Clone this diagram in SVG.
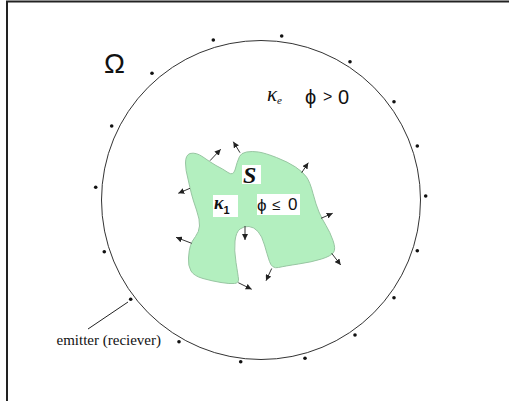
<svg xmlns="http://www.w3.org/2000/svg" width="509" height="401" viewBox="0 0 509 401">
<defs>
<style>
.dot{fill:#111}
.arr{stroke:#333;stroke-width:1;fill:none;marker-end:url(#ah)}
.lbl{font-family:"Liberation Serif","Times New Roman",serif;fill:#111}
.sans{font-family:"Liberation Sans",Arial,sans-serif;fill:#111}
.bg{fill:#fff}
</style>
<marker id="ah" markerUnits="userSpaceOnUse" markerWidth="7" markerHeight="6" refX="6" refY="3" orient="auto">
<path d="M0,0 L6,3 L0,6 Z" fill="#222"/>
</marker>
</defs>
<rect x="0" y="0" width="509" height="401" fill="#fff"/>
<g id="frame" stroke="#222" stroke-width="2">
<line x1="6" y1="1.5" x2="509" y2="1.5"/>
<line x1="7" y1="1" x2="7" y2="401"/>
</g>
<g id="domain">
<circle cx="261" cy="200" r="159.5" fill="none" stroke="#333" stroke-width="1"/>
<text class="sans" x="104" y="73" font-size="28">Ω</text>
<text class="lbl" x="267" y="101" font-size="21" font-style="italic">κ<tspan font-size="11" dy="3">e</tspan></text>
<text class="sans" x="305" y="104" font-size="20">ϕ</text>
<text class="sans" x="323" y="102" font-size="16">&gt;</text>
<text class="sans" x="338" y="104" font-size="20">0</text>
</g>
<g id="emitters">
<circle class="dot" cx="281.7" cy="36" r="1.8"/>
<circle class="dot" cx="213.3" cy="40" r="1.8"/>
<circle class="dot" cx="350" cy="61.7" r="1.8"/>
<circle class="dot" cx="152" cy="73.3" r="1.8"/>
<circle class="dot" cx="394" cy="101.7" r="1.8"/>
<circle class="dot" cx="111.7" cy="126" r="1.8"/>
<circle class="dot" cx="417.3" cy="146" r="1.8"/>
<circle class="dot" cx="95.7" cy="187.3" r="1.8"/>
<circle class="dot" cx="425.7" cy="196" r="1.8"/>
<circle class="dot" cx="417.3" cy="250.7" r="1.8"/>
<circle class="dot" cx="104.3" cy="251.7" r="1.8"/>
<circle class="dot" cx="394" cy="297.7" r="1.8"/>
<circle class="dot" cx="130.7" cy="299.3" r="1.8"/>
<circle class="dot" cx="355" cy="335" r="1.8"/>
<circle class="dot" cx="179" cy="341.7" r="1.8"/>
<circle class="dot" cx="240.7" cy="361.7" r="1.8"/>
<circle class="dot" cx="305" cy="358.3" r="1.8"/>
</g>
<g id="label-emitter">
<text class="lbl" x="56.5" y="345" font-size="15">emitter (reciever)</text>
</g>
<g id="region-S">
<path d="M185.5,163 Q185.5,155 190,153.5 Q196,152 203,157 Q210,162 216,165.5 Q223,169 228,172.5 Q233,176 235,170 Q237,162 239.5,156.5 Q241,153 246.5,152 Q252,151 258.5,152 Q265,153 276.5,157.5 Q288,162 295.5,167 Q303,172 306.5,177 Q310,182 313,193.5 Q316,205 319,212 Q322,219 326,225.5 Q330,232 333,240.5 Q336,249 333.5,252.5 Q331,256 321.5,259 Q312,262 298.5,264 Q285,266 278.5,267.5 Q272,269 269.5,261.5 Q267,254 264.5,245 Q262,236 258,231.5 Q254,227 249,226.5 Q244,226 240,229 Q236,232 235,241 Q234,250 236,262.5 Q238,275 238.5,279 Q239,283 234.5,283.5 Q230,284 221,282.5 Q212,281 203,278.5 Q194,276 191,271 Q188,266 188.5,258 Q189,250 190.5,245.5 Q192,241 195.5,236.5 Q199,232 199.5,226 Q200,220 196.5,210 Q193,200 191.5,194 Q190,188 188,179 Q185.5,170 185.5,163 Z" fill="#b3efbf" stroke="#98c6a2" stroke-width="1"/>
<rect class="bg" x="242" y="165" width="19" height="19"/>
<rect class="bg" x="213" y="195" width="25" height="22"/>
<rect class="bg" x="257" y="194" width="43" height="21"/>
<text class="lbl" x="243" y="183" font-size="24" font-style="italic" font-weight="bold">S</text>
<text class="lbl" x="214" y="209" font-size="18" font-style="italic" font-weight="bold">κ<tspan font-family="Liberation Sans, sans-serif" font-style="normal" font-size="11" dy="5">1</tspan></text>
<text class="sans" x="257" y="211" font-size="17">ϕ</text>
<text class="sans" x="272" y="210" font-size="15">≤</text>
<text class="sans" x="288" y="210" font-size="17">0</text>
</g>
<g id="connectors">
<line x1="128" y1="302" x2="88" y2="329" stroke="#222" stroke-width="1"/>
<line class="arr" x1="210" y1="160.7" x2="220.7" y2="149.3"/>
<line class="arr" x1="240" y1="152.7" x2="233.3" y2="141.7"/>
<line class="arr" x1="301.7" y1="172.7" x2="308.3" y2="162.7"/>
<line class="arr" x1="190" y1="188.3" x2="178.3" y2="193.3"/>
<line class="arr" x1="321" y1="218.3" x2="332.7" y2="213.3"/>
<line class="arr" x1="191.7" y1="243.3" x2="176" y2="237.3"/>
<line class="arr" x1="245" y1="226" x2="245" y2="240"/>
<line class="arr" x1="331.7" y1="253.3" x2="340.7" y2="265"/>
<line class="arr" x1="271.7" y1="268.5" x2="266" y2="280.7"/>
<line class="arr" x1="238.3" y1="282.7" x2="251.7" y2="289.3"/>
</g>
</svg>
